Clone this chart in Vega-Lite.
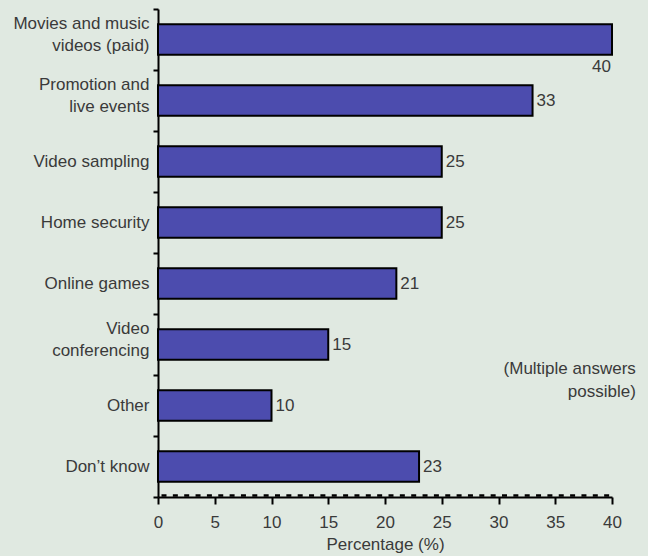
{
  "$schema": "https://vega.github.io/schema/vega-lite/v6.json",
  "width": 454,
  "height": 488,
  "autosize": {"type": "none"},
  "padding": {"left": 158, "top": 9, "right": 36, "bottom": 59},
  "background": "#e0e9e1",
  "config": {
    "view": {"stroke": null},
    "font": "Liberation Sans",
    "text": {"font": "Liberation Sans"}
  },
  "data": {
    "values": [
      {"category": "Movies and music|videos (paid)", "value": 40},
      {"category": "Promotion and|live events", "value": 33},
      {"category": "Video sampling", "value": 25},
      {"category": "Home security", "value": 25},
      {"category": "Online games", "value": 21},
      {"category": "Video|conferencing", "value": 15},
      {"category": "Other", "value": 10},
      {"category": "Don’t know", "value": 23}
    ]
  },
  "resolve": {"axis": {"x": "independent"}},
  "layer": [
    {
      "mark": {"type": "bar", "fill": "#4c4cae", "stroke": "#000000", "strokeWidth": 2, "height": {"band": 0.5}},
      "encoding": {
        "y": {
          "field": "category", "type": "nominal", "sort": null,
          "scale": {
            "domain": ["Movies and music|videos (paid)", "Promotion and|live events", "Video sampling", "Home security", "Online games", "Video|conferencing", "Other", "Don’t know"],
            "paddingInner": 0, "paddingOuter": 0
          },
          "axis": {
            "title": null,
            "labelExpr": "datum.value ? split(datum.value, '|') : ''",
            "labelFontSize": 17, "labelColor": "#3a3a3a", "labelLineHeight": 22,
            "labelOffset": {"condition": {"test": "datum.value && indexof(datum.value, '|') >= 0", "value": -16}, "value": 0},
            "labelPadding": 4,
            "domainColor": "#000000", "domainWidth": 2,
            "tickColor": "#000000", "tickWidth": 2, "tickSize": 5,
            "tickBand": "extent"
          }
        },
        "x": {
          "field": "value", "type": "quantitative",
          "scale": {"domain": [0, 40], "nice": false},
          "axis": {
            "values": [0, 5, 10, 15, 20, 25, 30, 35, 40],
            "grid": false,
            "labelFlush": false,
            "title": "Percentage (%)",
            "titleFontSize": 17, "titleFontWeight": "normal", "titleColor": "#3a3a3a",
            "titlePadding": 6,
            "labelFontSize": 17, "labelColor": "#3a3a3a", "labelPadding": 10,
            "domainColor": "#000000", "domainWidth": 2,
            "tickColor": "#000000", "tickWidth": 2, "tickSize": 7
          }
        }
      }
    },
    {
      "transform": [{"filter": "datum.value < 40"}],
      "mark": {"type": "text", "align": "left", "baseline": "middle", "dx": 4, "fontSize": 17, "color": "#3a3a3a"},
      "encoding": {
        "y": {"field": "category", "type": "nominal", "sort": null},
        "x": {"field": "value", "type": "quantitative", "axis": null},
        "text": {"field": "value"}
      }
    },
    {
      "transform": [{"filter": "datum.value >= 40"}],
      "mark": {"type": "text", "align": "right", "baseline": "middle", "dx": -1, "dy": 27, "fontSize": 17, "color": "#3a3a3a"},
      "encoding": {
        "y": {"field": "category", "type": "nominal", "sort": null},
        "x": {"field": "value", "type": "quantitative", "axis": null},
        "text": {"field": "value"}
      }
    },
    {
      "data": {"values": [{"note": "(Multiple answers|possible)", "x": 42.1, "anchor": "Other"}]},
      "mark": {"type": "text", "align": "right", "baseline": "middle", "dy": -37, "fontSize": 17, "color": "#3a3a3a", "lineHeight": 23, "lineBreak": "|"},
      "encoding": {
        "y": {"field": "anchor", "type": "nominal", "sort": null},
        "x": {
          "field": "x", "type": "quantitative",
          "axis": {"orient": "bottom", "offset": -2, "labels": false, "ticks": false, "title": null, "grid": false,
                   "domainColor": "#000000", "domainWidth": 2.5, "domainDash": [5, 6.35], "domainDashOffset": -3}
        },
        "text": {"field": "note"}
      }
    }
  ]
}
